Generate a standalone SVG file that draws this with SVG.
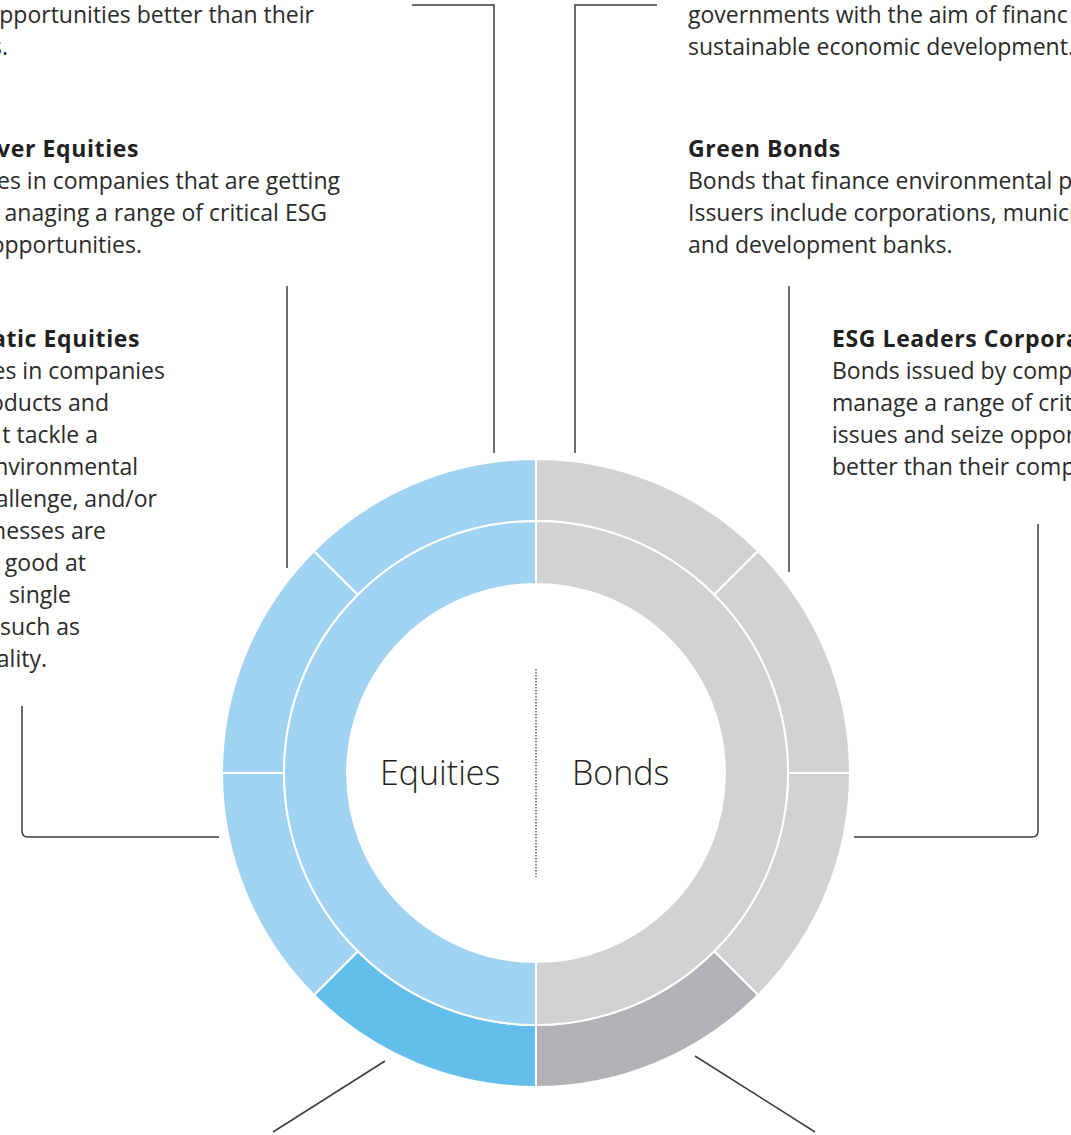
<svg xmlns="http://www.w3.org/2000/svg" width="1071" height="1135" viewBox="0 0 1071 1135">
  <style>
    .t { font-family: "Open Sans", "Noto Sans", "DejaVu Sans", sans-serif; font-size: 23px; fill: #2b2b2b; }
    .b { font-weight: 700; fill: #231f20; letter-spacing: 0.6px; }
    .e { text-anchor: end; }
    .big { font-family: "Open Sans", "Noto Sans", sans-serif; font-size: 34px; font-weight: 300; fill: #231f20; }
    .seg { stroke: #ffffff; stroke-width: 2; }
    .lb { fill: #a0d3f1; }
    .db { fill: #64beeb; }
    .lg { fill: #d1d2d4; }
    .dg { fill: #b1b2b5; }
    .conn { fill: none; stroke: #3c3c3c; stroke-width: 1.5; }
  </style>
  <rect width="1071" height="1135" fill="#ffffff"/>

  <g id="ring">
    <g id="outer-ring">
      <path class="seg lg" d="M536 459 A314 314 0 0 1 758.03 550.97 L714.19 594.81 A252 252 0 0 0 536 521 Z"/>
      <path class="seg lg" d="M758.03 550.97 A314 314 0 0 1 850 773 L788 773 A252 252 0 0 0 714.19 594.81 Z"/>
      <path class="seg lg" d="M850 773 A314 314 0 0 1 758.03 995.03 L714.19 951.19 A252 252 0 0 0 788 773 Z"/>
      <path class="seg dg" d="M758.03 995.03 A314 314 0 0 1 536 1087 L536 1025 A252 252 0 0 0 714.19 951.19 Z"/>
      <path class="seg db" d="M536 1087 A314 314 0 0 1 313.97 995.03 L357.81 951.19 A252 252 0 0 0 536 1025 Z"/>
      <path class="seg lb" d="M313.97 995.03 A314 314 0 0 1 222 773 L284 773 A252 252 0 0 0 357.81 951.19 Z"/>
      <path class="seg lb" d="M222 773 A314 314 0 0 1 313.97 550.97 L357.81 594.81 A252 252 0 0 0 284 773 Z"/>
      <path class="seg lb" d="M313.97 550.97 A314 314 0 0 1 536 459 L536 521 A252 252 0 0 0 357.81 594.81 Z"/>
    </g>
    <g id="inner-ring">
      <path class="seg lg" d="M536 521 A252 252 0 0 1 536 1025 L536 962 A189 189 0 0 0 536 584 Z"/>
      <path class="seg lb" d="M536 1025 A252 252 0 0 1 536 521 L536 584 A189 189 0 0 0 536 962 Z"/>
    </g>
  </g>

  <g id="center-labels">
    <line x1="536" y1="669" x2="536" y2="877" stroke="#444" stroke-width="1.3" stroke-dasharray="1.5 1.5"/>
    <text class="big" x="380" y="785">Equities</text>
    <text class="big" x="572" y="785">Bonds</text>
  </g>

  <g id="connectors">
    <path class="conn" d="M412 5 H494 V453"/>
    <path class="conn" d="M287 286 V568"/>
    <path class="conn" d="M22 706 V831 Q22 837 28 837 H219"/>
    <path class="conn" d="M657 5 H575 V453"/>
    <path class="conn" d="M789 286 V572"/>
    <path class="conn" d="M1038 524 V831 Q1038 837 1032 837 H854"/>
    <path class="conn" d="M385 1061 L273 1132"/>
    <path class="conn" d="M695 1056 L815 1132"/>
  </g>

  <g id="node-esg-leaders-equities">
    <text class="t e" x="314" y="23">pportunities better than their</text>
    <text class="t e" x="8" y="55">s.</text>
  </g>

  <g id="node-esg-improver-equities">
    <text class="t b e" x="139" y="157">ver Equities</text>
    <text class="t e" x="340" y="189">es in companies that are getting</text>
    <text class="t e" x="327" y="221">anaging a range of critical ESG</text>
    <text class="t e" x="142" y="253">opportunities.</text>
  </g>

  <g id="node-thematic-equities">
    <text class="t b e" x="140" y="347">atic Equities</text>
    <text class="t e" x="165" y="379">es in companies</text>
    <text class="t e" x="109" y="411">oducts and</text>
    <text class="t e" x="98" y="443">t tackle a</text>
    <text class="t e" x="138" y="475">nvironmental</text>
    <text class="t e" x="157" y="507">allenge, and/or</text>
    <text class="t e" x="106" y="539">nesses are</text>
    <text class="t e" x="86" y="571">good at</text>
    <text class="t e" x="71" y="603">single</text>
    <text class="t e" x="80" y="635">such as</text>
    <text class="t e" x="47" y="667">ality.</text>
  </g>

  <g id="node-sustainable-bonds">
    <text class="t" x="688" y="23">governments with the aim of financ</text>
    <text class="t" x="688" y="55">sustainable economic development.</text>
  </g>

  <g id="node-green-bonds">
    <text class="t b" x="688" y="157">Green Bonds</text>
    <text class="t" x="688" y="189">Bonds that finance environmental p</text>
    <text class="t" x="688" y="221">Issuers include corporations, munici</text>
    <text class="t" x="688" y="253">and development banks.</text>
  </g>

  <g id="node-esg-leaders-corporate">
    <text class="t b" x="832" y="347">ESG Leaders Corpora</text>
    <text class="t" x="832" y="379">Bonds issued by comp</text>
    <text class="t" x="832" y="411">manage a range of crit</text>
    <text class="t" x="832" y="443">issues and seize oppor</text>
    <text class="t" x="832" y="475">better than their comp</text>
  </g>
</svg>
